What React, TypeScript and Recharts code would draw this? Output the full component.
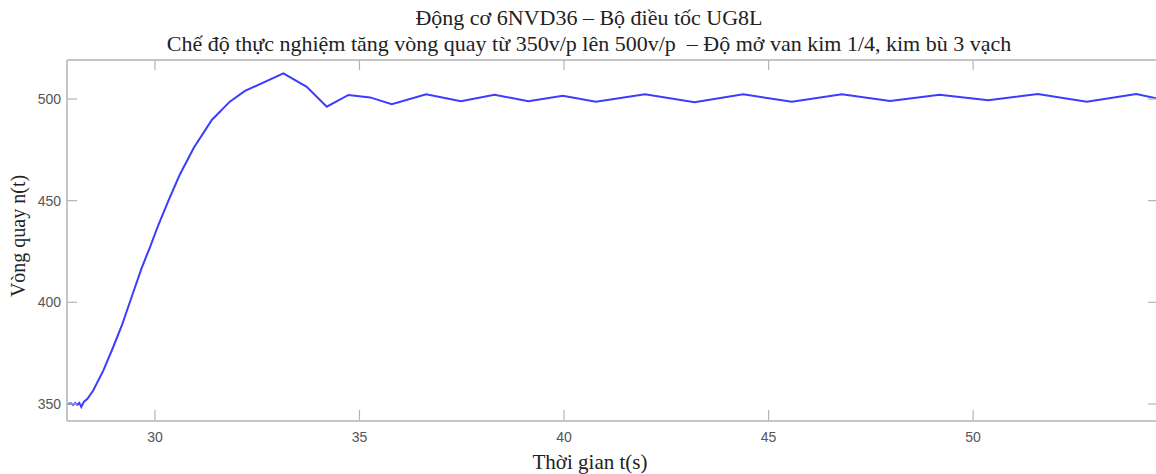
import React from "react";
import { LineChart, Line, XAxis, YAxis } from "recharts";

const timeValues: number[] = [
  27.86, 27.95, 28.0, 28.05, 28.1, 28.15, 28.2, 28.26, 28.35, 28.49, 28.74, 28.98, 29.19,
  29.43, 29.67, 29.88, 30.08, 30.33, 30.6, 30.95, 31.39, 31.83, 32.2, 33.14, 33.71,
  34.2, 34.73, 35.26, 35.79, 36.63, 37.48, 38.3, 39.13, 39.97, 40.78, 41.98, 43.19,
  44.38, 45.57, 46.79, 47.97, 49.18, 50.37, 51.58, 52.78, 53.99, 54.52,
];
const speedValues: number[] = [
  350, 350.3, 349.5, 350.4, 349.6, 350.5, 348.5, 351, 352.5, 356.6, 366.5, 378, 388.6,
  402.6, 416.6, 427.2, 437.9, 450, 462.5, 476, 489.7, 498.7, 504, 512.6, 506,
  496.2, 502, 500.8, 497.5, 502.3, 498.9, 502.1, 498.9, 501.6, 498.7, 502.3, 498.4,
  502.3, 498.7, 502.3, 499, 502.1, 499.4, 502.5, 498.7, 502.5, 500.2,
];
const xTicks: number[] = [30, 35, 40, 45, 50];
const yTicks: number[] = [350, 400, 450, 500];
const xDomain: [number, number] = [27.85, 54.52];
const yDomain: [number, number] = [341.6, 519.2];

const titleLine1 = "Động cơ 6NVD36 – Bộ điều tốc UG8L";
const titleLine2 = "Chế độ thực nghiệm tăng vòng quay từ 350v/p lên 500v/p  – Độ mở van kim 1/4, kim bù 3 vạch";
const xLabel = "Thời gian t(s)";
const yLabel = "Vòng quay n(t)";

const data = timeValues.map((t, i) => ({ t, n: speedValues[i] }));

const AXIS = "#b3b3b3";
const TICK_TEXT = "#555555";
const SANS = "'Liberation Sans', Arial, sans-serif";
const SERIF = "'Liberation Serif', 'Times New Roman', serif";

const BottomTick = (props: any) => {
  const { x, y, payload } = props;
  return (
    <g>
      <line x1={x} x2={x} y1={y - 1} y2={y - 11} stroke={AXIS} strokeWidth={1.2} />
      <text x={x} y={y + 21} textAnchor="middle" fill={TICK_TEXT} fontSize={14} fontFamily={SANS}>
        {payload.value}
      </text>
    </g>
  );
};
const TopTick = (props: any) => {
  const { x, y } = props;
  return <line x1={x} x2={x} y1={y} y2={y + 10} stroke={AXIS} strokeWidth={1.2} />;
};
const LeftTick = (props: any) => {
  const { x, y, payload } = props;
  return (
    <g>
      <line x1={x} x2={x + 10} y1={y} y2={y} stroke={AXIS} strokeWidth={1.2} />
      <text x={x - 6} y={y + 5} textAnchor="end" fill={TICK_TEXT} fontSize={14} fontFamily={SANS}>
        {payload.value}
      </text>
    </g>
  );
};
const RightTick = (props: any) => {
  const { x, y } = props;
  return <line x1={x} x2={x - 10} y1={y} y2={y} stroke={AXIS} strokeWidth={1.2} />;
};

export default function App() {
  return (
    <div style={{ position: "absolute", left: 0, top: 0, width: 1156, height: 474, overflow: "hidden", background: "#fff" }}>
      <LineChart width={1160} height={474} data={data} margin={{ top: 59, right: 1, bottom: 52, left: 66 }}>
        <XAxis
          dataKey="t"
          type="number"
          domain={xDomain}
          ticks={xTicks}
          allowDataOverflow
          height={1}
          tickSize={0}
          tickMargin={0}
          tickLine={false}
          tick={<BottomTick />}
          axisLine={{ stroke: AXIS, strokeWidth: 1.5 }}
        />
        <XAxis
          xAxisId="top"
          orientation="top"
          dataKey="t"
          type="number"
          domain={xDomain}
          ticks={xTicks}
          allowDataOverflow
          height={1}
          tickSize={0}
          tickMargin={0}
          tickLine={false}
          tick={<TopTick />}
          axisLine={{ stroke: AXIS, strokeWidth: 1.5 }}
        />
        <YAxis
          type="number"
          domain={yDomain}
          ticks={yTicks}
          allowDataOverflow
          width={1}
          tickSize={0}
          tickMargin={0}
          tickLine={false}
          tick={<LeftTick />}
          axisLine={{ stroke: AXIS, strokeWidth: 1.5 }}
        />
        <YAxis
          yAxisId="right"
          orientation="right"
          type="number"
          domain={yDomain}
          ticks={yTicks}
          allowDataOverflow
          width={1}
          tickSize={0}
          tickMargin={0}
          tickLine={false}
          tick={<RightTick />}
          axisLine={{ stroke: AXIS, strokeWidth: 1.5 }}
        />
        <Line
          type="linear"
          dataKey="n"
          stroke="#3c3cff"
          strokeWidth={2}
          dot={false}
          isAnimationActive={false}
        />
        <text x={589} y={25} textAnchor="middle" fontSize={22} fontFamily={SERIF} fill="#222">
          {titleLine1}
        </text>
        <text x={589} y={51} textAnchor="middle" fontSize={22} fontFamily={SERIF} fill="#222" style={{ whiteSpace: "pre" }}>
          {titleLine2}
        </text>
        <text x={590} y={469} textAnchor="middle" fontSize={21} fontFamily={SERIF} fill="#222">
          {xLabel}
        </text>
        <text x={25} y={236} textAnchor="middle" fontSize={20} fontFamily={SERIF} fill="#222" transform="rotate(-90 25 236)">
          {yLabel}
        </text>
      </LineChart>
    </div>
  );
}
